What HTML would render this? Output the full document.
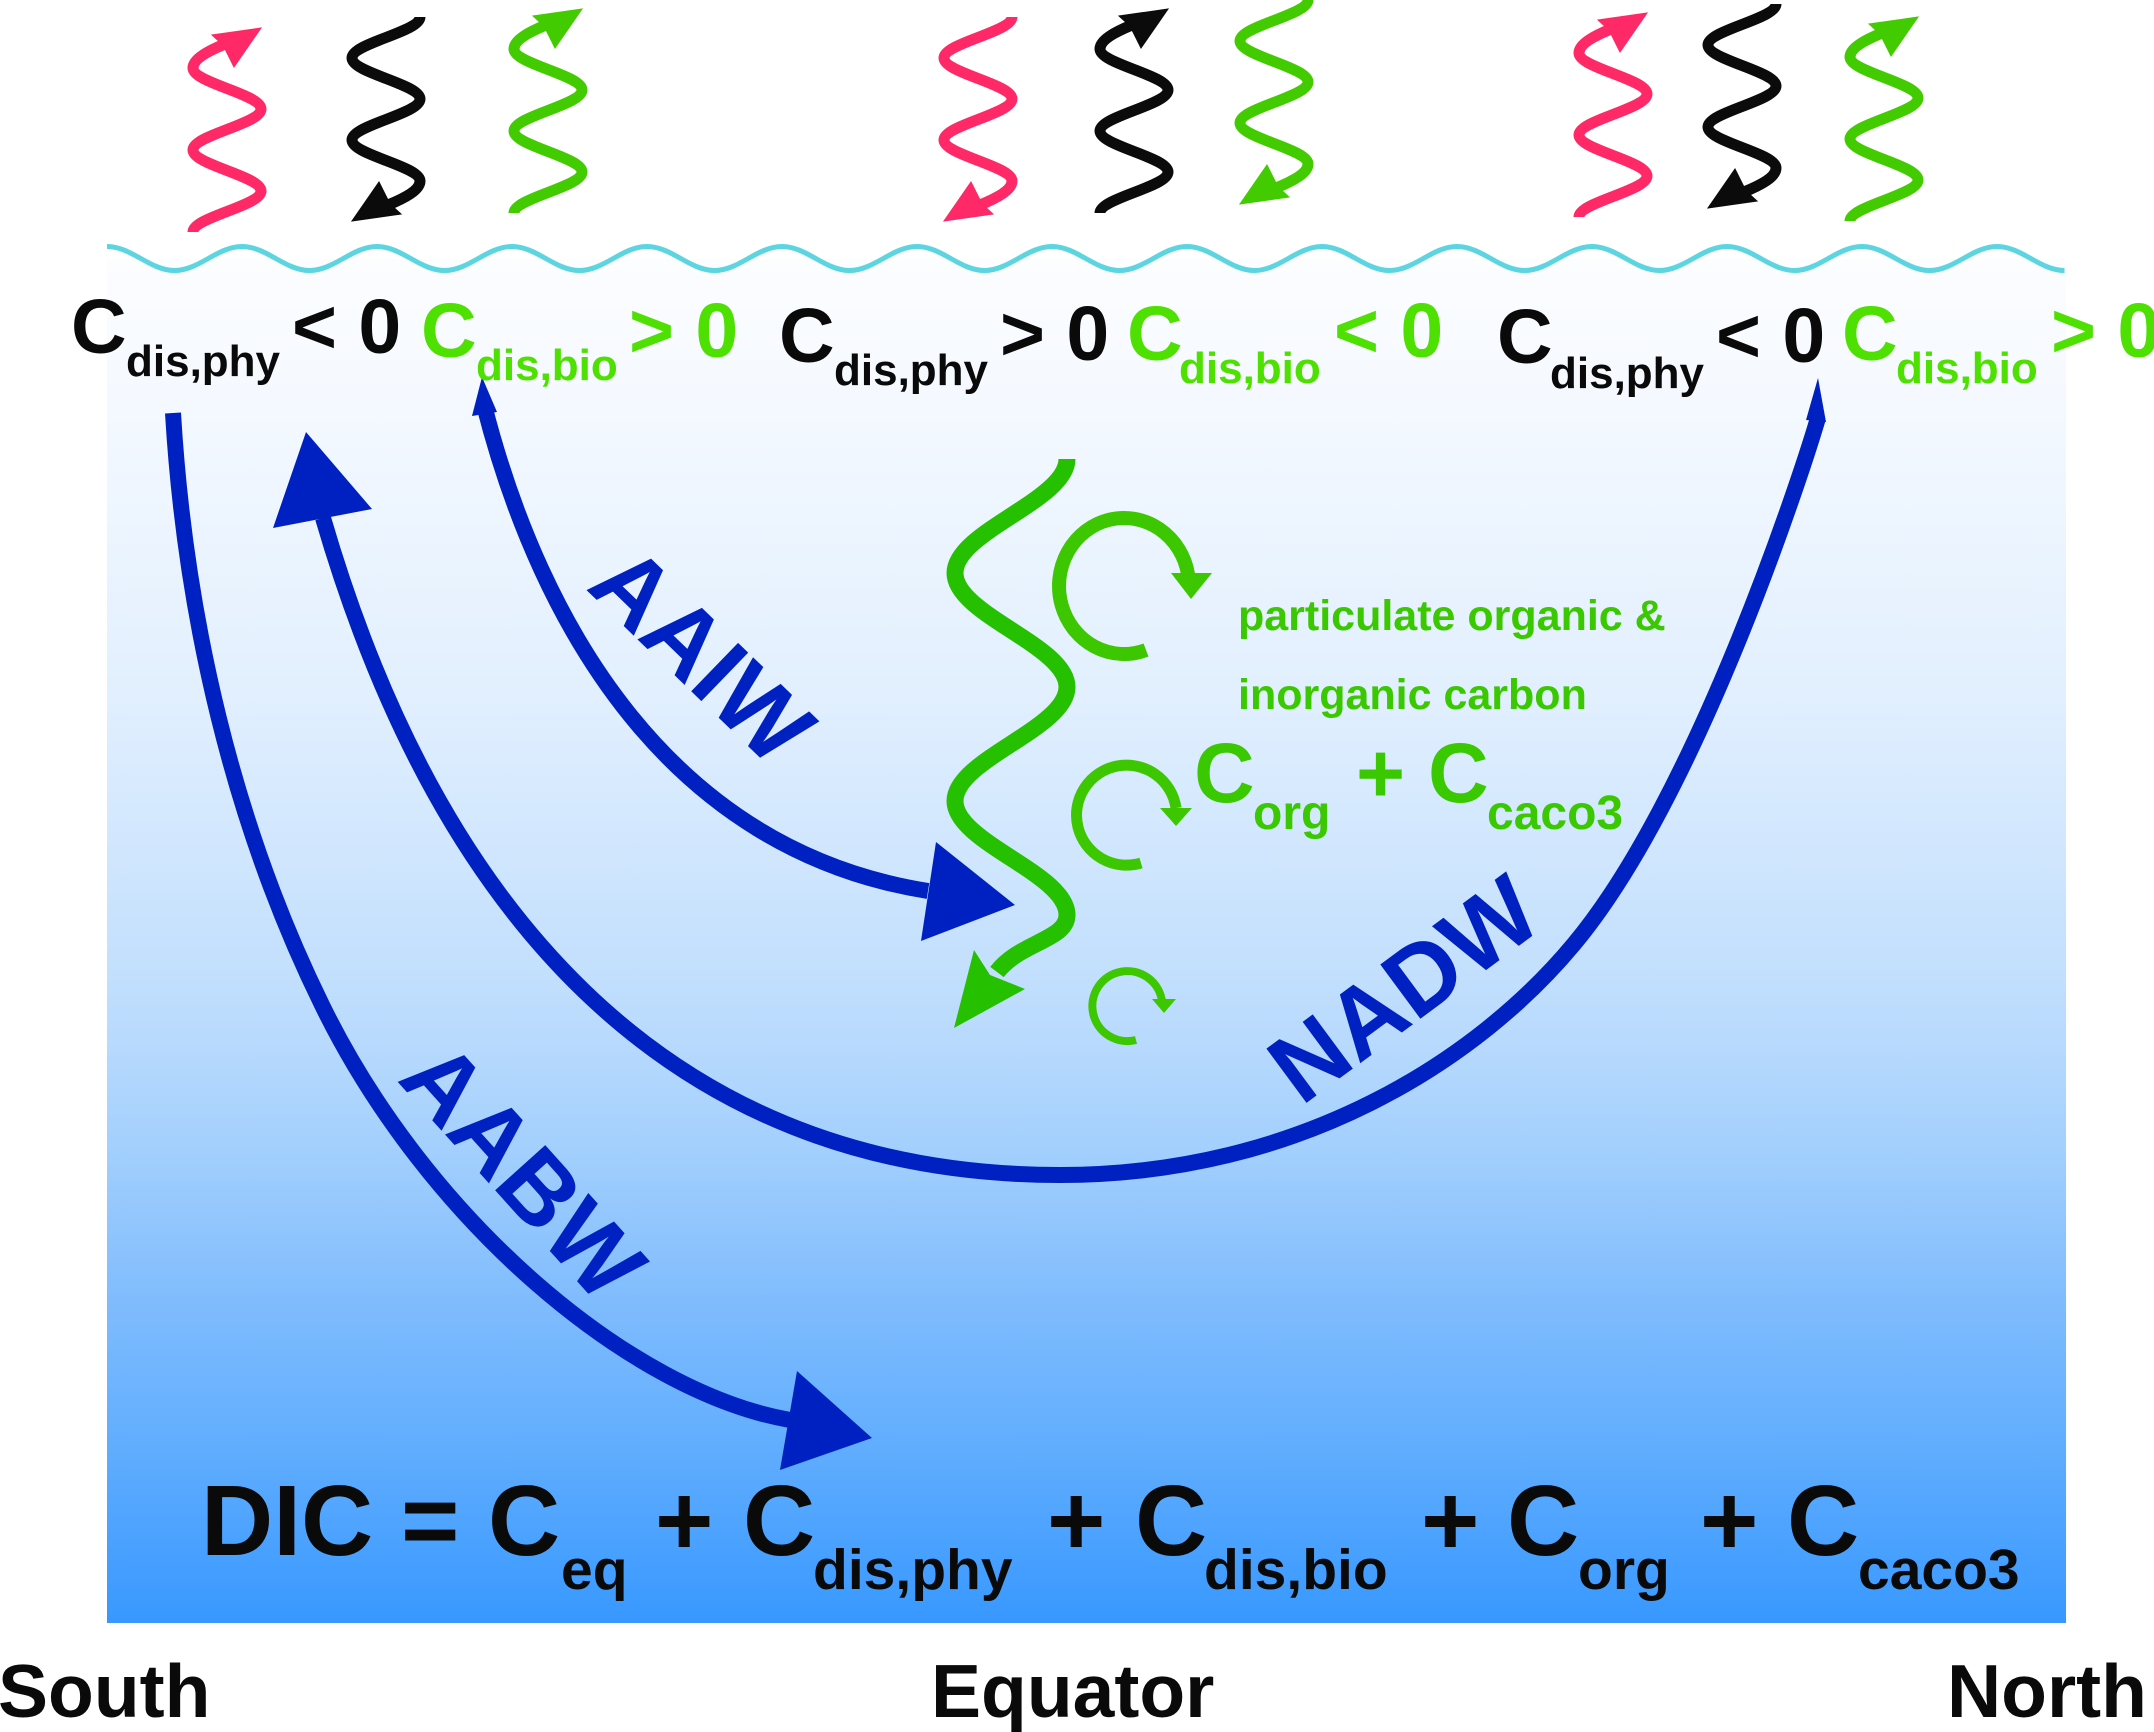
<!DOCTYPE html>
<html>
<head>
<meta charset="utf-8">
<style>
html,body{margin:0;padding:0;background:#ffffff;}
svg{display:block;}
text{font-family:"Liberation Sans",Arial,sans-serif;font-weight:bold;}
</style>
</head>
<body>
<svg width="2154" height="1732" viewBox="0 0 2154 1732" xmlns="http://www.w3.org/2000/svg">
<defs>
<linearGradient id="sea" gradientUnits="userSpaceOnUse" x1="0" y1="259" x2="0" y2="1623">
<stop offset="0" stop-color="#fcfdff"/>
<stop offset="0.125" stop-color="#f3f8ff"/>
<stop offset="0.323" stop-color="#e1effe"/>
<stop offset="0.526" stop-color="#c2dffd"/>
<stop offset="0.597" stop-color="#b2d7fd"/>
<stop offset="0.661" stop-color="#a0cefd"/>
<stop offset="0.762" stop-color="#80bcfd"/>
<stop offset="0.853" stop-color="#66b0fe"/>
<stop offset="1" stop-color="#3898ff"/>
</linearGradient>
<g id="wup">
<path d="M0,0 c0,-15 68,-26 68,-41 c0,-15 -68,-26 -68,-41 c0,-15 68,-26 68,-41 c0,-15 -68,-26 -68,-41 c0,-9 15,-17 32,-24" fill="none" stroke-width="11"/>
<polygon points="68,-204 19,-197 30,-187 41,-165"/>
</g>
</defs>

<!-- ocean -->
<rect x="107" y="259" width="1959" height="1364" fill="url(#sea)"/>

<!-- surface wave -->
<path d="M107,246.5 c24.6,0 42.9,24 67.5,24 c24.6,0 42.9,-24 67.5,-24 c24.6,0 42.9,24 67.5,24 c24.6,0 42.9,-24 67.5,-24 c24.6,0 42.9,24 67.5,24 c24.6,0 42.9,-24 67.5,-24 c24.6,0 42.9,24 67.5,24 c24.6,0 42.9,-24 67.5,-24 c24.6,0 42.9,24 67.5,24 c24.6,0 42.9,-24 67.5,-24 c24.6,0 42.9,24 67.5,24 c24.6,0 42.9,-24 67.5,-24 c24.6,0 42.9,24 67.5,24 c24.6,0 42.9,-24 67.5,-24 c24.6,0 42.9,24 67.5,24 c24.6,0 42.9,-24 67.5,-24 c24.6,0 42.9,24 67.5,24 c24.6,0 42.9,-24 67.5,-24 c24.6,0 42.9,24 67.5,24 c24.6,0 42.9,-24 67.5,-24 c24.6,0 42.9,24 67.5,24 c24.6,0 42.9,-24 67.5,-24 c24.6,0 42.9,24 67.5,24 c24.6,0 42.9,-24 67.5,-24 c24.6,0 42.9,24 67.5,24 c24.6,0 42.9,-24 67.5,-24 c24.6,0 42.9,24 67.5,24 c24.6,0 42.9,-24 67.5,-24 c24.6,0 42.9,24 67.5,24" fill="none" stroke="#5dd5e1" stroke-width="5"/>

<!-- wavy radiation arrows -->
<use href="#wup" transform="translate(193,232)" fill="#fe2966" stroke="#fe2966"/>
<use href="#wup" transform="translate(420,17) rotate(180)" fill="#0b0b0b" stroke="#0b0b0b"/>
<use href="#wup" transform="translate(514,213)" fill="#42cc00" stroke="#42cc00"/>

<use href="#wup" transform="translate(1012,17) rotate(180)" fill="#fe2966" stroke="#fe2966"/>
<use href="#wup" transform="translate(1100,213)" fill="#0b0b0b" stroke="#0b0b0b"/>
<use href="#wup" transform="translate(1308,0) rotate(180)" fill="#42cc00" stroke="#42cc00"/>

<use href="#wup" transform="translate(1579,217)" fill="#fe2966" stroke="#fe2966"/>
<use href="#wup" transform="translate(1776,4) rotate(180)" fill="#0b0b0b" stroke="#0b0b0b"/>
<use href="#wup" transform="translate(1850,221)" fill="#42cc00" stroke="#42cc00"/>

<!-- blue circulation arrows -->
<g fill="none" stroke="#0021c2" stroke-width="16">
<path d="M173,413 C185,616 233,824 322,1005 C427,1220 630,1392 790,1420"/>
<path d="M484,405 C541,628 671,850 928,891"/>
<path d="M1818,418 C1801,476 1696,798 1574,944 C1478,1059.5 1300,1175 1060,1175 C660,1175 435,902 323,518"/>
</g>
<g fill="#0021c2">
<polygon points="872,1438 797,1371 780,1470"/>
<polygon points="1015,905 936,842 921,941"/>
<polygon points="306,432 372,509 273,528"/>
<polygon points="482,377 472,416 497,412"/>
<polygon points="1818,378 1806,420 1826,422"/>
</g>

<!-- green sinking squiggle -->
<path d="M1067,459 C1067,500.5 955,531.5 955,573 C955,614.5 1067,645.5 1067,687 C1067,728.5 955,759.5 955,801 C955,842.5 1067,873.5 1067,915 C1067,940 1020,942 997,972" fill="none" stroke="#25c000" stroke-width="17"/>
<polygon points="954,1028 974,950 990,975 1025,989" fill="#25c000"/>

<!-- circular arrows -->
<g fill="none" stroke="#3dc700">
<path d="M1146,650 A65,68 0 1 1 1188,574" stroke-width="14"/>
<path d="M1141,863 A50,50 0 1 1 1176,808" stroke-width="11"/>
<path d="M1136,1040 A35,35 0 1 1 1162,1001" stroke-width="8"/>
</g>
<g fill="#3dc700">
<polygon points="1171,573 1212,573 1191,599"/>
<polygon points="1160,808 1192,808 1176,826"/>
<polygon points="1152,999 1176,999 1164,1013"/>
</g>

<!-- top row labels -->
<g fill="#0a0a0a">
<text x="71" y="353" font-size="77">C</text><text x="126" y="376" font-size="44">dis,phy</text><text x="292" y="353" font-size="77">&lt; 0</text>
<text x="779" y="362" font-size="77">C</text><text x="834" y="385" font-size="44">dis,phy</text><text x="1000" y="360" font-size="77">&gt; 0</text>
<text x="1497" y="363" font-size="77">C</text><text x="1550" y="388" font-size="44">dis,phy</text><text x="1716" y="362" font-size="77">&lt; 0</text>
</g>
<g fill="#4ee000">
<text x="421" y="357" font-size="77">C</text><text x="476" y="380" font-size="44">dis,bio</text><text x="629" y="357" font-size="77">&gt; 0</text>
<text x="1127" y="360" font-size="77">C</text><text x="1179" y="383" font-size="44">dis,bio</text><text x="1334" y="357" font-size="77">&lt; 0</text>
<text x="1842" y="360" font-size="77">C</text><text x="1896" y="383" font-size="44">dis,bio</text><text x="2051" y="357" font-size="77">&gt; 0</text>
</g>

<!-- centre green labels -->
<g fill="#3ac800">
<text x="1238" y="630" font-size="43">particulate organic &amp;</text>
<text x="1238" y="709" font-size="43">inorganic carbon</text>
<text x="1194" y="802" font-size="84">C</text><text x="1253" y="829" font-size="48">org</text>
<text x="1356" y="802" font-size="84">+</text>
<text x="1428" y="802" font-size="84">C</text><text x="1487" y="829" font-size="48">caco3</text>
</g>

<!-- water mass labels -->
<g fill="#0021c2" font-size="98">
<text transform="translate(703,654) rotate(44)" x="0" y="35" text-anchor="middle">AAIW</text>
<text transform="translate(524,1170) rotate(48)" x="0" y="35" text-anchor="middle">AABW</text>
<text transform="translate(1403,988) rotate(-36.5)" x="0" y="35" text-anchor="middle">NADW</text>
</g>

<!-- DIC equation -->
<g fill="#0a0a0a">
<text x="201" y="1555" font-size="100">DIC =</text>
<text x="488" y="1555" font-size="100">C</text><text x="561" y="1589" font-size="57">eq</text>
<text x="655" y="1555" font-size="100">+</text>
<text x="743" y="1555" font-size="100">C</text><text x="813" y="1589" font-size="57">dis,phy</text>
<text x="1047" y="1555" font-size="100">+</text>
<text x="1135" y="1555" font-size="100">C</text><text x="1204" y="1589" font-size="57">dis,bio</text>
<text x="1421" y="1555" font-size="100">+</text>
<text x="1507" y="1555" font-size="100">C</text><text x="1578" y="1589" font-size="57">org</text>
<text x="1700" y="1555" font-size="100">+</text>
<text x="1787" y="1555" font-size="100">C</text><text x="1858" y="1589" font-size="57">caco3</text>
</g>

<!-- axis labels -->
<g fill="#0a0a0a" font-size="75">
<text x="-2" y="1717">South</text>
<text x="931" y="1717">Equator</text>
<text x="1947" y="1717">North</text>
</g>
</svg>
</body>
</html>
